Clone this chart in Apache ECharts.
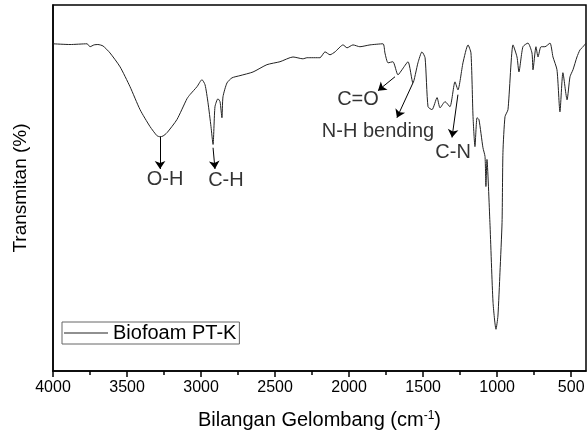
<!DOCTYPE html>
<html>
<head>
<meta charset="utf-8">
<script src="https://cdn.jsdelivr.net/npm/echarts@6/dist/echarts.min.js"></script>
<style>
html, body { margin: 0; padding: 0; background: #fff; }
#chart { width: 588px; height: 435px; }
</style>
</head>
<body>
<div id="chart"></div>
<script>
// FTIR spectrum (wavenumber cm-1, transmittance in arbitrary %)
var wavenumber = [4000, 3885, 3770, 3750, 3723, 3696, 3662, 3615, 3547, 3480, 3412, 3345, 3298, 3277, 3257, 3230,
    3163, 3095, 3075, 3027, 2994, 2973, 2953, 2933, 2919, 2906, 2886, 2872, 2859, 2852, 2825, 2791, 2737,
    2649, 2555, 2467, 2379, 2312, 2284, 2197, 2163, 2129, 2095, 2041, 2014, 1974, 1927, 1859, 1771, 1758,
    1737, 1704, 1670, 1643, 1602, 1569, 1535, 1508, 1487, 1467, 1440, 1406, 1386, 1352, 1319, 1285, 1265,
    1231, 1197, 1177, 1163, 1150, 1136, 1123, 1096, 1082, 1076, 1069, 1049, 1028, 1008, 995, 981, 967,
    961, 947, 927, 893, 866, 853, 826, 792, 765, 758, 738, 724, 704, 677, 643, 623, 596, 576, 556, 528,
    508, 488, 461, 441, 420, 400];
var transmittance = [89.4, 89.2, 89.4, 88.6, 89.1, 89.2, 88.8, 86.9, 83.1, 77.7, 71.4, 66.8, 64.3, 64.0, 64.2, 65.1,
    68.7, 74.4, 75.5, 77.7, 79.6, 78.2, 73.3, 66.8, 61.9, 72.2, 74.4, 73.6, 69.2, 74.9, 78.7, 80.1, 80.7,
    81.7, 83.7, 84.5, 85.8, 85.3, 85.6, 85.6, 87.2, 86.4, 87.2, 89.1, 88.3, 89.1, 88.6, 89.1, 89.4, 86.9,
    84.2, 84.5, 80.9, 82.3, 84.5, 78.7, 84.2, 87.2, 85.6, 72.2, 71.4, 74.7, 71.9, 73.6, 72.2, 79.0, 76.8,
    84.2, 89.1, 86.9, 69.5, 61.3, 69.2, 68.7, 61.0, 58.6, 50.4, 57.8, 40.6, 18.8, 11.4, 15.0, 27.0, 40.6,
    59.7, 69.5, 71.4, 89.1, 85.8, 81.7, 88.6, 89.6, 86.9, 82.3, 88.6, 85.8, 88.6, 88.6, 89.6, 85.8, 82.3,
    70.8, 81.5, 74.1, 80.4, 82.3, 85.8, 87.7, 88.6, 89.6];

var majorTicks = [500, 1000, 1500, 2000, 2500, 3000, 3500, 4000];
var minorTicks = [750, 1250, 1750, 2250, 2750, 3250, 3750];

// band annotations: arrow start, arrow end, label position
var bandNames = ['O-H', 'C-H', 'C=O', 'N-H bending', 'C-N'];
var arrowFrom = [[3277, 64.0], [2919, 61.0], [1690, 80.4], [1569, 78.7], [1265, 75.5]];
var arrowTo = [[3277, 55.2], [2906, 55.2], [1805, 76.6], [1677, 69.2], [1305, 63.8]];
var labelAt = [[3243, 52.3], [2832, 52.0], [1940, 74.1], [1805, 65.4], [1298, 59.7]];

var spectrum = wavenumber.map(function (w, i) { return [w, transmittance[i]]; });
var arrows = bandNames.map(function (n, i) {
    return [{ coord: arrowFrom[i] }, { coord: arrowTo[i] }];
});
var labels = bandNames.map(function (n, i) {
    return { value: labelAt[i], name: n };
});

var chart = echarts.init(document.getElementById('chart'));
var font = 'Liberation Sans, Arial, sans-serif';

var option = {
    animation: false,
    textStyle: { fontFamily: font },
    grid: {
        left: 53, right: 2, top: 5, bottom: 62,
        show: true, borderColor: '#000', borderWidth: 1.5
    },
    legend: {
        data: ['Biofoam PT-K'],
        left: 62, top: 322,
        orient: 'horizontal',
        icon: 'rect',
        itemWidth: 44, itemHeight: 1,
        padding: [1, 3, 1, 2],
        borderColor: '#666', borderWidth: 1,
        textStyle: { fontSize: 20, color: '#000', fontFamily: font }
    },
    xAxis: [{
        type: 'value',
        min: 400, max: 4000,
        inverse: true,
        name: 'Bilangan Gelombang (cm{sup|-1})',
        nameLocation: 'middle',
        nameGap: 39,
        nameTextStyle: {
            fontSize: 20, color: '#000', fontFamily: font,
            rich: { sup: { fontSize: 12, verticalAlign: 'top', color: '#000', fontFamily: font } }
        },
        axisLine: { lineStyle: { color: '#000', width: 1.5 } },
        axisTick: { customValues: majorTicks, length: 6, lineStyle: { color: '#000', width: 1.5 } },
        axisLabel: {
            customValues: majorTicks, fontSize: 16, color: '#000', margin: 9, fontFamily: font,
            formatter: function (v) { return String(v); }
        },
        splitLine: { show: false }
    }, {
        type: 'value',
        min: 400, max: 4000,
        inverse: true,
        position: 'bottom',
        axisLine: { show: false },
        axisTick: { customValues: minorTicks, length: 4, lineStyle: { color: '#000', width: 1.5 } },
        axisLabel: { show: false },
        splitLine: { show: false }
    }],
    yAxis: {
        type: 'value',
        min: 0, max: 100,
        name: 'Transmitan (%)',
        nameLocation: 'middle',
        nameGap: 23,
        nameTextStyle: { fontSize: 19, color: '#000', fontFamily: font },
        axisLine: { show: true, lineStyle: { color: '#000', width: 1.5 } },
        axisTick: { show: false },
        axisLabel: { show: false },
        splitLine: { show: false }
    },
    series: [{
        name: 'Biofoam PT-K',
        type: 'line',
        data: spectrum,
        showSymbol: false,
        smooth: 0.2,
        lineStyle: { color: '#222', width: 1 },
        itemStyle: { color: '#222' },
        markLine: {
            silent: true,
            symbol: ['none', 'arrow'],
            symbolSize: 8,
            label: { show: false },
            lineStyle: { color: '#000', width: 1, type: 'solid' },
            data: arrows
        }
    }, {
        name: 'bands',
        type: 'scatter',
        data: labels,
        symbolSize: 0,
        silent: true,
        label: {
            show: true,
            position: 'inside',
            formatter: '{b}',
            fontSize: 20,
            color: '#000',
            fontFamily: font
        }
    }]
};

chart.setOption(option);
</script>
</body>
</html>
